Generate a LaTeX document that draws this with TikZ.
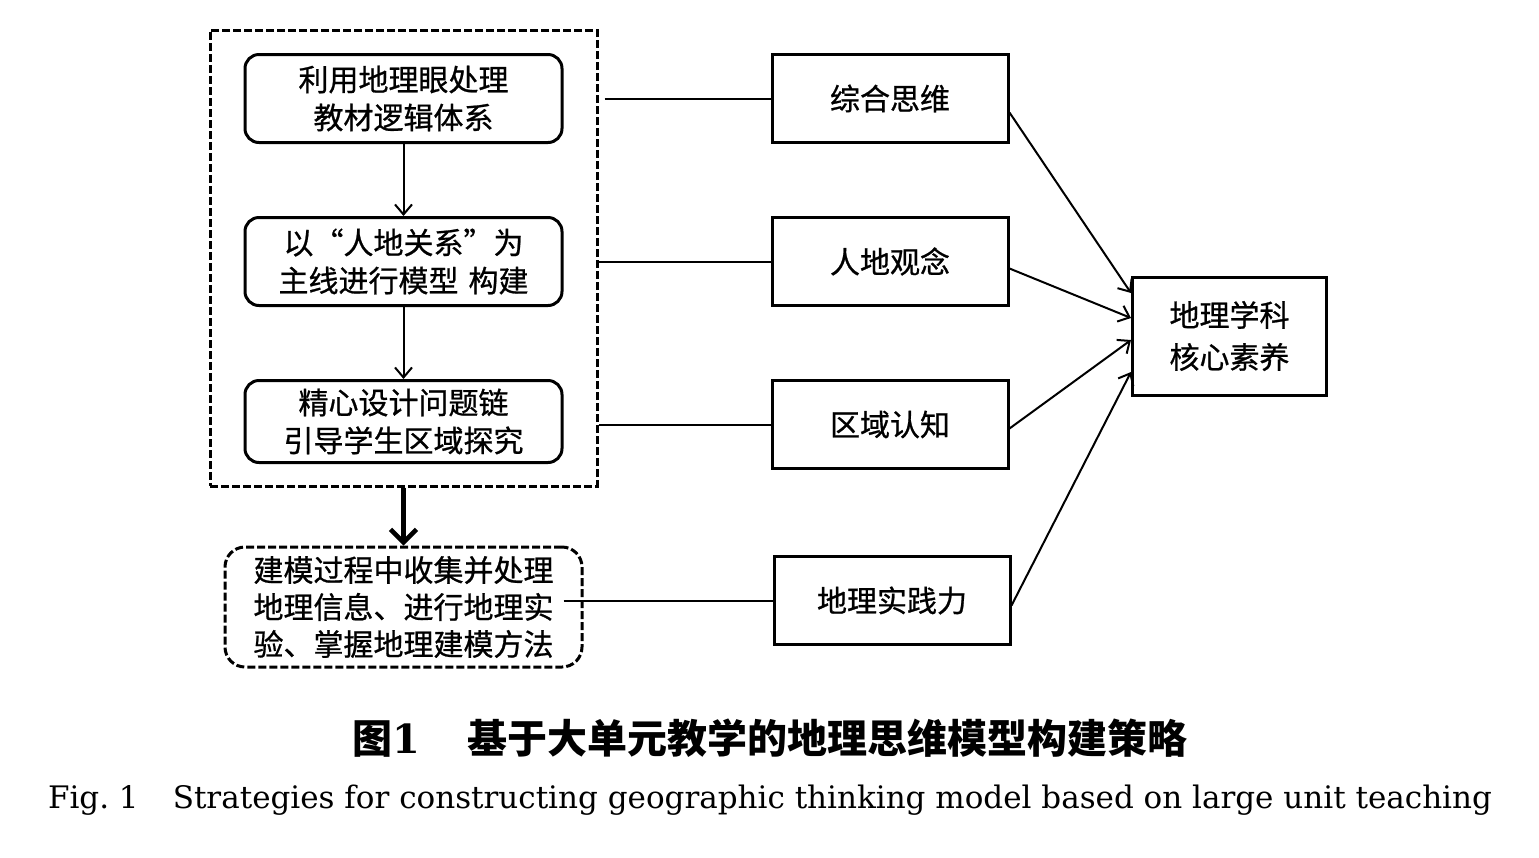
\documentclass[tikz,border=0pt]{standalone}
\usepackage{fontspec}
\newfontfamily\cjk{Noto Sans CJK SC}
\newfontfamily\cjkbox[FakeBold=0.8]{Noto Sans CJK SC}
\newfontfamily\capfont{DejaVu Serif}
\usepackage{tikz}
\usetikzlibrary{calc,positioning,matrix,arrows,arrows.meta,shapes}
\tikzset{
  prog/.style={rectangle, draw=black, line width=3pt, text width=300pt, text centered, rounded corners=14pt, minimum width=317pt, minimum height=88pt, inner sep=0pt, font=\cjkbox\fontsize{30}{38}\selectfont},
  progm/.style={rectangle, draw=black, line width=3pt, dash pattern=on 8pt off 3pt, text width=340pt, text centered, rounded corners=20pt, minimum width=357pt, minimum height=120pt, inner sep=0pt, font=\cjkbox\fontsize{30}{37}\selectfont},
  outer/.style={rectangle, draw=black, line width=3pt, dash pattern=on 8pt off 3pt, minimum width=387pt, minimum height=456pt, inner sep=0pt},
  the/.style={rectangle, draw=black, line width=3pt, text width=200pt, text centered, minimum width=236pt, minimum height=88pt, inner sep=0pt, font=\cjkbox\fontsize{30}{42}\selectfont},
  line/.style={draw, line width=2pt},
}
\begin{document}
\begin{tikzpicture}[x=1pt,y=-1pt,>={Straight Barb[length=10pt,width=17pt]}]
    \useasboundingbox (0,0) rectangle (1539,857);

    \matrix[row sep=72pt] at (403.5,258.5) {
      \node[prog] (yan) {利用地理眼处理\\教材逻辑体系}; \\
      \node[prog] (zhux) {以“人地关系”为\\主线进行模型 构建}; \\
      \node[prog, minimum height=82pt] (wenti) {精心设计问题链\\引导学生区域探究}; \\
    };
    \node[outer] (kuang) at (403.5,258) {};
    \node[progm] (jianmo) at (403.5,607) {建模过程中收集并处理\\地理信息、进行地理实\\验、掌握地理建模方法};

    \node[the, right of=yan, node distance=486.5pt] (zonghe) {综合思维};
    \node[the, right of=zhux, node distance=486.5pt] (rendi) {人地观念};
    \node[the, right of=wenti, node distance=486.5pt, yshift=-3pt] (quyu) {区域认知};
    \node[the, below of=quyu, node distance=176pt, xshift=2pt] (shijian) {地理实践力};
    \node[the, text width=160pt, minimum width=194pt, minimum height=118pt] (hexin) at (1229.5,336) {地理学科\\核心素养};

    \node[anchor=base] (capcn) at (770,753) {\fontsize{40}{46}\selectfont{\cjk\bfseries 图}{\capfont\bfseries 1}\hspace{1.2em}{\cjk\bfseries 基于大单元教学的地理思维模型构建策略}};
    \node[anchor=base] (capen) at (770,808) {\capfont\fontsize{31}{38}\selectfont Fig.~1\hspace{1.1em}Strategies for constructing geographic thinking model based on large unit teaching};

    \begin{scope}[every path/.style=line]
      \path[->] (yan) -- (zhux);
      \path[->] (zhux) -- (wenti);
      \path[line width=4.5pt, ->, >={Straight Barb[length=13pt,width=26pt]}] (kuang) -- (jianmo);

      \path ($(kuang.east |- zonghe)+(6pt,0)$) -- (zonghe);
      \path (kuang.east |- rendi) -- (rendi);
      \path (kuang.east |- quyu) -- (quyu);
      \path ($(jianmo.east |- shijian)+(-20pt,0)$) -- (shijian);

      \path[->] ([yshift=-14pt]zonghe.east) -- ([yshift=43pt]hexin.west);
      \path[->] ([yshift=-7pt]rendi.east) -- ([yshift=18pt]hexin.west);
      \path[->] ([yshift=-4pt]quyu.east) -- ([yshift=-4pt]hexin.west);
      \path[->] ([yshift=-5pt]shijian.east) -- ([yshift=-36pt]hexin.west);
    \end{scope}

  \end{tikzpicture}
\end{document}
